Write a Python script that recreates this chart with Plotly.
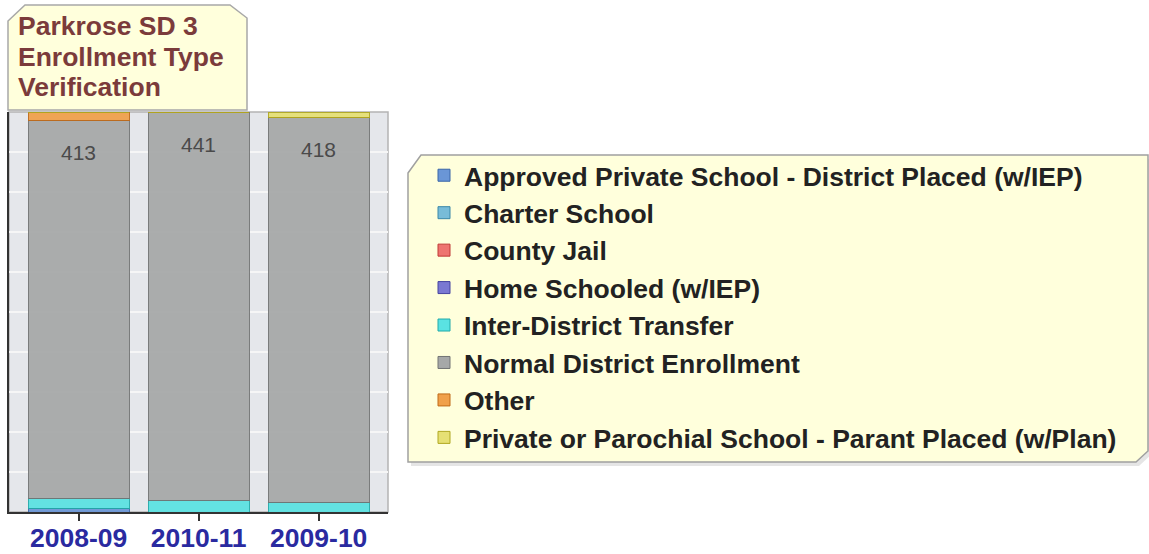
import plotly.graph_objects as go

# ---------------- data ----------------
years = ["2008-09", "2010-11", "2009-10"]
approved_private = [4, 0, 0]
charter_school = [0, 0, 0]
county_jail = [0, 0, 0]
home_schooled = [0, 0, 0]
inter_district = [11, 13, 10]
normal_district = [413, 441, 418]
other = [9, 0, 0]
private_parochial = [0, 0, 6]

series_names = [
    "Approved Private School - District Placed (w/IEP)",
    "Charter School",
    "County Jail",
    "Home Schooled (w/IEP)",
    "Inter-District Transfer",
    "Normal District Enrollment",
    "Other",
    "Private or Parochial School - Parant Placed (w/Plan)",
]
series_values = [approved_private, charter_school, county_jail, home_schooled,
                 inter_district, normal_district, other, private_parochial]
title_lines = ["Parkrose SD 3", "Enrollment Type", "Verification"]

# ---------------- style ----------------
fills = ["#6a96d6", "#78bcd8", "#ee7470", "#7a78d2", "#5ae2e2", "#a6a8a8", "#f0a04a", "#e6e074"]
edges = ["#3a66a8", "#3a88a8", "#c03a36", "#4644a0", "#22aaaa", "#727474", "#c06a18", "#b0a820"]
FONT = "Liberation Sans, Arial, Helvetica, sans-serif"

W, H = 1149, 554
PL, PR, PT, PB = 9, 388, 112, 512  # plot area in pixels


def px(x):
    return (x - PL) / (PR - PL)


def py(y):
    return (PB - y) / (PB - PT)


fig = go.Figure()
for name, vals, fc, ec in zip(series_names, series_values, fills, edges):
    fig.add_trace(go.Bar(
        name=name, x=years, y=vals, width=0.84,
        marker=dict(color=fc, line=dict(color=ec, width=1), opacity=0.93),
        hovertemplate="%{x}: %{y}<extra>" + name + "</extra>",
    ))

# value labels on the Normal District Enrollment segment
totals = [sum(v[i] for v in series_values) for i in range(len(years))]
idx_normal = series_names.index("Normal District Enrollment")
annotations = []
for i, yr in enumerate(years):
    top = sum(series_values[k][i] for k in range(idx_normal + 1)) / totals[i] * 100
    annotations.append(dict(
        x=yr, y=top, xref="x", yref="y", text=str(normal_district[i]),
        showarrow=False, yshift=-32, yanchor="middle",
        font=dict(family=FONT, size=21, color="#4a4a4a"),
    ))

# title lines (in a note box, top left)
title_centers = [26.5, 56.5, 86.5]
for line, cy in zip(title_lines, title_centers):
    annotations.append(dict(
        x=px(16), y=py(cy), xref="paper", yref="paper", text="<b>" + line + "</b>",
        showarrow=False, xanchor="left", yanchor="middle", align="left",
        font=dict(family=FONT, size=26.5, color="#7b3b3b"),
    ))


def path(points):
    return "M " + " L ".join(f"{px(a):.5f},{py(b):.5f}" for a, b in points) + " Z"


shapes = [
    # title note box
    dict(type="path", xref="paper", yref="paper", layer="below",
         path=path([(8, 21), (25, 5), (230, 5), (247, 18), (247, 110), (8, 110)]),
         fillcolor="#ffffdc", line=dict(color="#a8a8a8", width=1.5)),
    # legend box shadow
    dict(type="path", xref="paper", yref="paper", layer="below",
         path=path([(411, 177), (424, 159), (1151, 159), (1151, 455), (1139, 466), (411, 466)]),
         fillcolor="rgba(0,0,0,0.10)", line=dict(width=0)),
    # legend box
    dict(type="path", xref="paper", yref="paper", layer="below",
         path=path([(408, 173), (421, 155), (1148, 155), (1148, 451), (1136, 462), (408, 462)]),
         fillcolor="#ffffdc", line=dict(color="#a0a0a0", width=1.5)),
    # plot frame (light top/right)
    dict(type="rect", xref="paper", yref="paper", x0=0, x1=1, y0=0, y1=1,
         layer="below", line=dict(color="#b4b4b4", width=1.5)),
]

fig.update_layout(
    width=W, height=H,
    barmode="stack", barnorm="percent",
    margin=dict(l=PL, r=W - PR, t=PT, b=H - PB, autoexpand=False),
    paper_bgcolor="white", plot_bgcolor="#e5e7eb",
    font=dict(family=FONT, color="#222222"),
    showlegend=True,
    legend=dict(
        x=px(424), y=py(151.5), xanchor="left", yanchor="top",
        xref="paper", yref="paper",
        bgcolor="rgba(0,0,0,0)", borderwidth=0,
        traceorder="normal",
        font=dict(family=FONT, size=26.5, color="#222222", weight="bold"),
    ),
    xaxis=dict(
        type="category", range=[-0.58, 2.577],
        showline=True, linecolor="#333333", linewidth=2,
        ticks="outside", ticklen=7, tickcolor="#333333", tickwidth=1.5,
        showgrid=False, ticklabelstandoff=-6,
        tickfont=dict(family=FONT, size=26.5, color="#2a2aa0", weight="bold"),
    ),
    yaxis=dict(
        range=[0, 100], dtick=10, showticklabels=False,
        showline=True, linecolor="#333333", linewidth=2,
        showgrid=True, gridcolor="#f6f6f6", gridwidth=1.5, zeroline=False,
        ticks="",
    ),
    bargap=0.16,
    annotations=annotations,
    shapes=shapes,
)

fig.write_html(
    "out.html",
    config={"displayModeBar": False},
    post_script="document.body.style.margin='0';document.body.style.overflow='hidden';",
)
